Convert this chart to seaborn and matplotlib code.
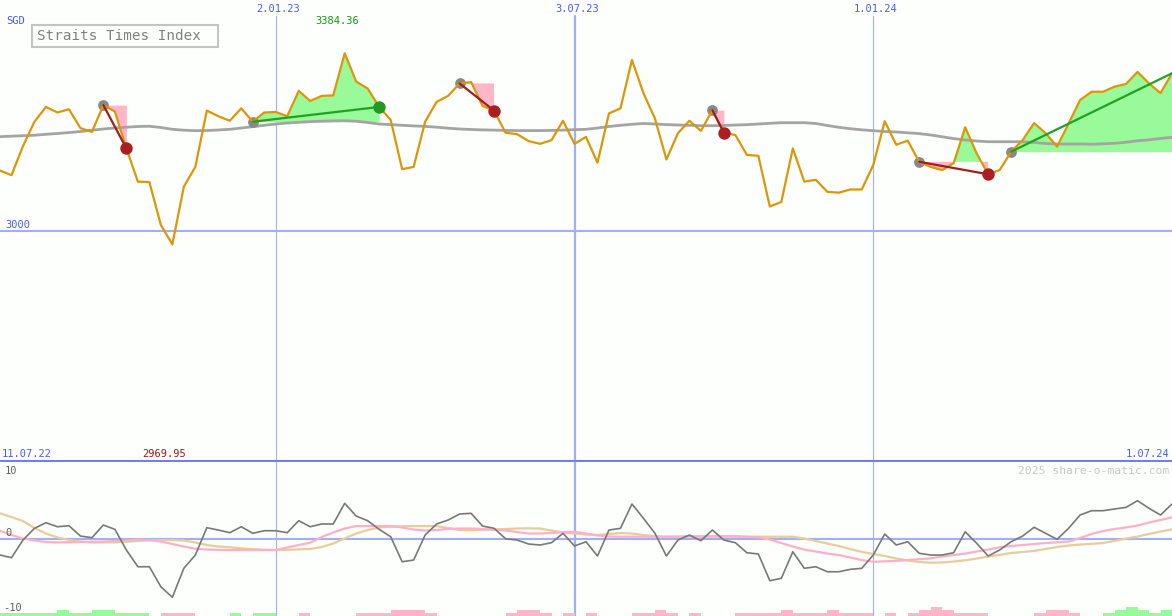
import matplotlib
matplotlib.use("Agg")
import matplotlib.pyplot as plt
import matplotlib.patches as patches
import pandas as pd
import seaborn as sns

# weekly closes of the Straits Times Index (SGD), 11.07.22 .. 1.07.24
close = [3130, 3120, 3183, 3236, 3268, 3256, 3263, 3222, 3214, 3272,
         3258, 3178, 3106, 3105, 3012, 2969.95, 3095, 3138, 3260, 3248,
         3238, 3265, 3236, 3256, 3257, 3248, 3303, 3281, 3292, 3293,
         3384.36, 3323, 3308, 3268, 3240, 3133, 3138, 3236, 3279, 3292,
         3319, 3322, 3270, 3260, 3212, 3209, 3194, 3188, 3196, 3238,
         3188, 3203, 3147, 3254, 3265, 3370, 3298, 3243, 3154, 3211,
         3238, 3216, 3261, 3212, 3207, 3164, 3162, 3052, 3062, 3178,
         3106, 3110, 3084, 3082, 3089, 3089, 3142, 3237, 3186, 3195,
         3149, 3138, 3131, 3146, 3224, 3167, 3122, 3131, 3171, 3196,
         3233, 3211, 3182, 3232, 3283, 3301, 3301, 3312, 3318, 3344,
         3319, 3298, 3341]

# long moving average (grey)
ma_long = [3203.5, 3204.6, 3205.6, 3206.7, 3208.7, 3210.4, 3212.4, 3214.7, 3217.6, 3220.2,
           3222.3, 3224.1, 3225.6, 3226.2, 3223.4, 3219.5, 3217.6, 3216.5, 3216.9, 3218.0,
           3219.5, 3222.3, 3225.2, 3228.2, 3231.0, 3233.2, 3234.7, 3236.0, 3237.1, 3237.7,
           3238.2, 3237.1, 3234.3, 3231.0, 3229.7, 3228.2, 3226.9, 3225.8, 3224.1, 3221.9,
           3220.2, 3219.1, 3218.2, 3217.8, 3217.1, 3216.7, 3216.7, 3216.7, 3217.1, 3217.8,
           3218.7, 3219.5, 3222.3, 3225.6, 3228.2, 3230.4, 3232.1, 3231.0, 3229.7, 3228.8,
           3228.2, 3227.3, 3227.3, 3227.9, 3228.8, 3229.5, 3231.0, 3232.5, 3233.8, 3233.8,
           3233.8, 3232.1, 3227.8, 3223.9, 3220.8, 3218.4, 3216.5, 3214.7, 3213.7, 3211.9,
           3210.2, 3207.2, 3203.3, 3199.4, 3196.3, 3194.1, 3192.6, 3192.6, 3192.6, 3192.4,
           3190.9, 3188.7, 3187.6, 3187.6, 3187.6, 3187.2, 3188.1, 3189.2, 3191.5, 3194.6,
           3196.7, 3199.6, 3202.2]

# lower panel: oscillator (dark grey) and its two smoothings (pink, tan)
osc = [-2.41, -2.80, -0.22, 1.49, 2.31, 1.72, 1.87, 0.36, 0.12, 1.97,
       1.34, -1.68, -4.12, -4.12, -7.04, -8.58, -4.35, -2.41, 1.58, 1.24,
       0.85, 1.72, 0.76, 1.14, 1.14, 0.85, 2.60, 1.72, 2.12, 2.12,
       5.14, 3.28, 2.60, 1.34, 0.26, -3.39, -3.14, 0.51, 2.12, 2.70,
       3.58, 3.68, 1.82, 1.49, -0.03, -0.22, -0.80, -0.95, -0.61, 0.76,
       -1.09, -0.47, -2.55, 1.24, 1.49, 5.04, 2.95, 0.76, -2.55, -0.22,
       0.51, -0.32, 1.24, -0.22, -0.61, -2.07, -2.26, -6.16, -5.81, -1.93,
       -4.35, -4.12, -4.85, -4.85, -4.50, -4.35, -2.41, 0.66, -0.95, -0.47,
       -2.16, -2.41, -2.41, -2.07, 0.99, -0.70, -2.55, -1.68, -0.47, 0.36,
       1.64, 0.76, -0.12, 1.49, 3.43, 4.06, 4.06, 4.31, 4.55, 5.52,
       4.41, 3.43, 5.04]

osc_fast = [1.14, 0.51, -0.01, -0.29, -0.51, -0.58, -0.55, -0.51, -0.48, -0.44,
            -0.36, -0.29, -0.15, -0.22, -0.44, -0.80, -1.17, -1.49, -1.61, -1.65,
            -1.68, -1.68, -1.68, -1.68, -1.68, -1.31, -0.95, -0.61, 0.22, 0.88,
            1.46, 1.82, 1.82, 1.82, 1.82, 1.61, 1.31, 1.17, 1.24, 1.39,
            1.46, 1.46, 1.39, 1.27, 1.17, 0.95, 0.73, 0.73, 0.80, 0.95,
            0.98, 0.73, 0.44, 0.29, 0.26, 0.26, 0.26, 0.26, 0.26, 0.29,
            0.32, 0.34, 0.36, 0.36, 0.36, 0.26, 0.18, -0.15, -0.66, -1.17,
            -1.61, -1.90, -2.19, -2.41, -2.77, -3.14, -3.39, -3.33, -3.26, -3.14,
            -3.02, -2.89, -2.63, -2.41, -2.19, -1.90, -1.61, -1.28, -1.09, -0.95,
            -0.80, -0.66, -0.55, -0.44, 0.07, 0.66, 1.09, 1.39, 1.61, 1.90,
            2.34, 2.70, 3.09]

osc_slow = [3.68, 3.14, 2.55, 1.53, 0.73, 0.15, -0.22, -0.44, -0.58, -0.58,
            -0.55, -0.47, -0.36, -0.26, -0.22, -0.22, -0.29, -0.58, -0.95, -1.17,
            -1.28, -1.43, -1.56, -1.65, -1.68, -1.65, -1.58, -1.53, -1.24, -0.73,
            0.00, 0.73, 1.24, 1.61, 1.72, 1.78, 1.82, 1.82, 1.82, 1.53,
            1.24, 1.20, 1.27, 1.34, 1.39, 1.46, 1.49, 1.46, 1.17, 0.88,
            0.73, 0.58, 0.51, 0.66, 0.80, 0.73, 0.51, 0.34, 0.26, 0.26,
            0.26, 0.26, 0.26, 0.26, 0.26, 0.26, 0.26, 0.26, 0.26, 0.26,
            0.00, -0.36, -0.73, -1.09, -1.53, -1.94, -2.26, -2.55, -2.92, -3.21,
            -3.43, -3.53, -3.50, -3.36, -3.18, -2.92, -2.63, -2.38, -2.12, -1.97,
            -1.80, -1.53, -1.24, -1.02, -0.88, -0.77, -0.66, -0.36, 0.00, 0.29,
            0.66, 1.02, 1.34]

# little strength bars at the foot (+ green, - pink)
hist = [1, 1, 1, 1, 1, 2, 1, 1, 2, 2,
        1, 1, 1, 0, -1, -1, -1, 0, 0, 0,
        1, 0, 1, 1, 0, 0, -1, 0, 0, 0,
        0, -1, -1, -1, -2, -2, -2, -1, 0, 0,
        0, 0, 0, 0, -1, -2, -2, -1, 0, -1,
        0, -1, 0, 0, 0, -1, -1, -2, -1, 0,
        -1, 0, 0, 0, -1, -1, -1, -1, -2, -1,
        -1, -1, -2, -1, -1, -1, 0, -1, 0, -1,
        -2, -3, -2, -1, -1, -1, 0, 0, 0, 0,
        -1, -2, -2, -1, 0, 0, 1, 2, 3, 2,
        1, 2, 2]

# trend segments: start week -> end week
seg_start = [9, 22, 40, 62, 80, 88]
seg_end = [11, 33, 43, 63, 86, 102]

grid_weeks = [24, 50, 76]
grid_labels = ["2.01.23", "3.07.23", "1.01.24"]
grid_widths = [0.8, 1.6, 0.8]

W, H = 1172, 616
bg = "#fdfffd"
blue_txt = "#4a5cf0"
light_blue = "#a0b0f0"
pink = "#ffb6c9"
green = "#98fa98"
mono = "DejaVu Sans Mono"

sns.set_style("white")
plt.rcParams['font.family'] = mono

weeks = list(range(len(close)))
df = pd.DataFrame({"week": weeks, "close": close, "ma": ma_long,
                   "osc": osc, "fast": osc_fast, "slow": osc_slow, "hist": hist})

fig = plt.figure(figsize=(W / 100, H / 100), dpi=100, facecolor=bg)
ax = fig.add_axes([0, 155 / H, 1, 461 / H], facecolor=bg)
ax2 = fig.add_axes([0, 0, 1, 154 / H], facecolor=bg)


def fpx(x, y):
    return x / W, 1 - y / H


# ---- price panel
for wk, lw in zip(grid_weeks, grid_widths):
    ax.axvline(wk, ymin=0, ymax=(461 - 16) / 461, color=light_blue, lw=lw, zorder=1)
ax.axhline(3000, color=light_blue, lw=1.5, zorder=1)

for s, e in zip(seg_start, seg_end):
    xs = weeks[s:e + 1]
    ys = close[s:e + 1]
    level = close[s]
    ax.fill_between(xs, ys, level, where=[v >= level for v in ys], interpolate=True,
                    color=green, lw=0, zorder=2)
    ax.fill_between(xs, ys, level, where=[v <= level for v in ys], interpolate=True,
                    color=pink, lw=0, zorder=2)

sns.lineplot(data=df, x="week", y="ma", ax=ax, color="#a4a4a4", lw=2, zorder=3)
ax.scatter([weeks[s] for s in seg_start], [close[s] for s in seg_start],
           s=60, color="#888888", zorder=3.5, lw=0)
sns.lineplot(data=df, x="week", y="close", ax=ax, color="#dc960a", lw=1.6, zorder=4)

for s, e in zip(seg_start, seg_end):
    up = close[e] > close[s]
    ax.plot([weeks[s], weeks[e]], [close[s], close[e]],
            color="#22a022" if up else "#a01e1e", lw=1.6, zorder=5)
    if e != len(close) - 1:
        ax.scatter([weeks[e]], [close[e]], s=80, lw=0, zorder=6,
                   color="#229922" if up else "#aa2020")

ax.set_xlim(0, 102)
ax.set_ylim(2500, 3500)
ax.set_xticks([])
ax.set_yticks([])
ax.set_xlabel("")
ax.set_ylabel("")
for side in ["top", "left", "right"]:
    ax.spines[side].set_visible(False)
ax.spines["bottom"].set_color("#7080e8")
ax.spines["bottom"].set_linewidth(1.5)

tr = ax.get_xaxis_transform()
for wk, lab in zip(grid_weeks, grid_labels):
    ax.text(wk + 0.2, (461 - 9) / 461, lab, transform=tr, ha="center", va="center",
            fontsize=7.5, color=blue_txt)

imax = close.index(max(close))
imin = close.index(min(close))
fig.text(*fpx(337, 21), "%.2f" % close[imax], ha="center", va="center",
         fontsize=7.5, color="#119911")
fig.text(*fpx(164, 454), "%.2f" % close[imin], ha="center", va="center",
         fontsize=7.5, color="#aa1111")
fig.text(*fpx(6, 21), "SGD", ha="left", va="center", fontsize=7.5, color=blue_txt)
fig.text(*fpx(5, 225), "3000", ha="left", va="center", fontsize=7.5, color=blue_txt)
fig.text(*fpx(2, 454), "11.07.22", ha="left", va="center", fontsize=7.5, color=blue_txt)
fig.text(*fpx(1169, 454), "1.07.24", ha="right", va="center", fontsize=7.5, color=blue_txt)

box = patches.Rectangle(fpx(32, 47), 186 / W, 22 / H, transform=fig.transFigure,
                        facecolor=bg, edgecolor="#c4c4c4", lw=1.5, zorder=10)
fig.add_artist(box)
fig.text(*fpx(37, 36), "Straits Times Index", ha="left", va="center",
         fontsize=10.3, color="#808080", zorder=11)

# ---- oscillator panel
ybot, ytop = -11.31, 11.17
for wk, lw in zip(grid_weeks, grid_widths):
    ax2.axvline(wk, color=light_blue, lw=lw, zorder=1)
ax2.axhline(0, color=light_blue, lw=1.5, zorder=1)

ax2.bar(df["week"], [abs(v) * 0.46 for v in hist], bottom=ybot, width=1.0, align="edge",
        color=[green if v > 0 else pink for v in hist], lw=0, zorder=2)

sns.lineplot(data=df, x="week", y="slow", ax=ax2, color="#e8cc9c", lw=1.6, zorder=3)
sns.lineplot(data=df, x="week", y="fast", ax=ax2, color="#ffb0c8", lw=1.6, zorder=3)
sns.lineplot(data=df, x="week", y="osc", ax=ax2, color="#787878", lw=1.2, zorder=4)

ax2.set_xlim(0, 102)
ax2.set_ylim(ybot, ytop)
ax2.set_xticks([])
ax2.set_yticks([])
ax2.set_xlabel("")
ax2.set_ylabel("")
for side in ["top", "bottom", "left", "right"]:
    ax2.spines[side].set_visible(False)

fig.text(*fpx(5, 471), "10", ha="left", va="center", fontsize=7.5, color="#606060")
fig.text(*fpx(5, 533), "0", ha="left", va="center", fontsize=7.5, color="#606060")
fig.text(*fpx(3, 608), "-10", ha="left", va="center", fontsize=7.5, color="#606060")
fig.text(*fpx(1169, 471), "2025 share-o-matic.com", ha="right", va="center",
         fontsize=8.2, color="#c8c8c8")

plt.savefig("out.png", dpi=100, facecolor=bg)
